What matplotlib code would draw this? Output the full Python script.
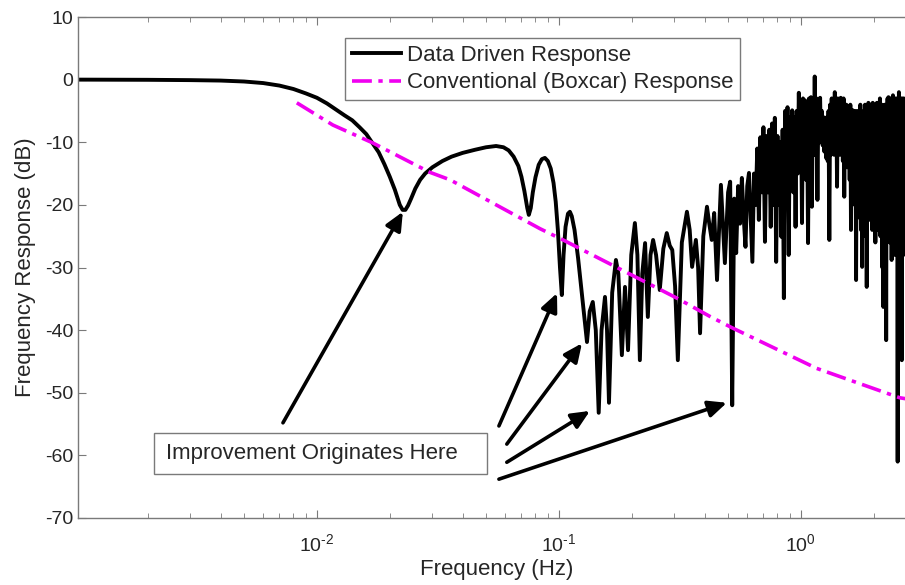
import numpy as np
import matplotlib
matplotlib.use('Agg')
import matplotlib.pyplot as plt
import matplotlib.patches as mpatches
from matplotlib.ticker import FuncFormatter

plt.rcParams['font.family'] = ['Liberation Sans', 'DejaVu Sans']
plt.rcParams['axes.unicode_minus'] = False
plt.rcParams['mathtext.fontset'] = 'custom'
plt.rcParams['mathtext.rm'] = 'Liberation Sans'
plt.rcParams['mathtext.it'] = 'Liberation Sans:italic'
plt.rcParams['mathtext.bf'] = 'Liberation Sans:bold'

# data driven response, low / mid band (Hz, dB)
low_freq = [
    0.00103, 0.002, 0.003, 0.004, 0.005, 0.006, 0.007, 0.008, 0.009, 0.010,
    0.011, 0.012, 0.013, 0.014, 0.015, 0.016, 0.017, 0.018, 0.019, 0.020,
    0.021, 0.022, 0.0226, 0.0232, 0.0238, 0.0245, 0.0255, 0.0267, 0.028, 0.030,
    0.033, 0.036, 0.040, 0.045, 0.050, 0.055, 0.059, 0.062, 0.065, 0.068,
    0.070, 0.072, 0.074, 0.0751, 0.0765, 0.078, 0.080, 0.0825, 0.085, 0.0875,
    0.090, 0.0925, 0.095, 0.097, 0.099, 0.101, 0.1028, 0.1045, 0.1065, 0.109,
    0.111, 0.113, 0.116, 0.120, 0.125, 0.1306, 0.134, 0.138, 0.142, 0.146,
    0.150, 0.155, 0.158, 0.161, 0.166, 0.172, 0.176, 0.182, 0.1875, 0.193,
    0.199, 0.206, 0.211, 0.216, 0.221, 0.227, 0.233, 0.239, 0.245, 0.252,
    0.261, 0.270, 0.279, 0.287, 0.294, 0.302, 0.310, 0.322, 0.338, 0.347,
    0.355, 0.368, 0.376, 0.383, 0.395, 0.409, 0.418, 0.428, 0.438, 0.45,
    0.467, 0.485,
]
low_db = [
    0, -0.03, -0.08, -0.15, -0.3, -0.55, -0.95, -1.5, -2.2, -2.9,
    -3.8, -4.8, -5.7, -6.5, -7.6, -8.7, -10.2, -11.6, -13.5, -15.5,
    -17.6, -20.0, -20.8, -20.8, -20.1, -19.0, -17.4, -16.0, -15.0, -14.0,
    -13.0, -12.3, -11.7, -11.2, -10.8, -10.6, -10.8, -11.3, -12.3, -13.8,
    -15.5, -17.8, -20.5, -21.6, -20.5, -18.0, -15.6, -13.6, -12.7, -12.5,
    -13.0, -14.2, -16.5, -19.5, -24, -30, -34.4, -28, -23.5, -21.4,
    -21.1, -21.8, -24, -28.5, -35, -41.9, -37, -35.5, -40, -53.2,
    -40, -34.7, -40, -51.6, -34, -28.8, -31, -44.0, -33.1, -43.2,
    -28, -22.9, -28, -44.8, -31, -26.1, -37.9, -28, -25.6, -28,
    -33.6, -27, -24.5, -26.5, -27.2, -33, -44.8, -26, -21.1, -24,
    -29.9, -25.6, -30, -40.5, -25, -20.3, -23, -25.6, -21.3, -32,
    -16.8, -29.3,
]

# data driven response, noisy high band: one value every 0.01 Hz from 0.50 Hz
high_start = 0.50
high_step = 0.01
high_db = [
    -18, -16.3, -52, -19, -27.7, -17, -23, -15.7, -22, -26.7,          # 0.50
    -17, -14.9, -22, -29.1, -15, -20, -11, -22.4, -9.2, -18,           # 0.60
    -7.6, -25.9, -9, -18, -8, -23.5, -7, -20, -6.1, -29.1,             # 0.70
    -9, -20, -10, -25.1, -8, -34.9, -5, -18, -4.4, -28,                # 0.80
    -6, -16, -4.9, -18, -6, -23.5, -5, -15, -2.1, -14,                 # 0.90
    -4, -22.9, -3, -14, -3.3, -16, -5, -26.1, -3, -13,                 # 1.00
    -2.8, -20.3, -4, -12, 0.5, -12, -3, -19.2, -4, -10,                # 1.10
    -2.9, -10, -5, -10.5, -6, -11.5, -7, -12.5, -6, -13,               # 1.20
    -5, -25.6, -4, -12, -3, -11, -5, -12, -2, -10,                     # 1.30
    -4, -17.1, -3, -11, -5, -12, -2.9, -10, -4, -13,                   # 1.40
    -3, -18.7, -5, -12, -4, -14, -4.4, -13, -6, -16,                   # 1.50
    -4, -24, -5, -15, -4.9, -18, -6, -20, -5, -32,                     # 1.60
    -7, -20, -5, -22, -6, -18, -4, -24, -6, -29.9,                     # 1.70
    -6.4, -22, -5, -18, -4, -25, -6, -33.1, -5, -20,                   # 1.80
    -3.7, -18, -5, -22.4, -4, -20, -5, -24, -3.7, -18,                 # 1.90
    -5, -22, -4, -26, -6, -20, -3.7, -22.4, -5, -24,                   # 2.00
    -4, -20, -3, -25, -5, -22, -4, -30, -6, -36.3,                     # 2.10
    -5, -24, -4, -28, -6, -41.6, -5, -20, -3, -25,                     # 2.20
    -2.8, -22, -4, -26, -3, -24, -5, -28.8, -3, -22,                   # 2.30
    -2.5, -25, -4, -20, -3, -28, -5, -22, -3, -26,                     # 2.40
    -6, -61, -4, -24, -2, -22, -4, -30, -3, -26,                       # 2.50
    -5, -44.8, -3, -24, -4, -28, -3, -22, -5, -25,                     # 2.60
    -4, -20, -3, -24, -5, -18,                                         # 2.70
]
high_freq = np.round(high_start + high_step * np.arange(len(high_db)), 2)

data_freq = np.concatenate([low_freq, high_freq])
data_db = np.concatenate([low_db, high_db])

# conventional (boxcar) response
boxcar_freq = [0.00826, 0.01164, 0.017, 0.0293, 0.0355, 0.0835, 0.104, 0.3076, 0.42, 0.524, 1.16, 2.56, 2.96]
boxcar_db = [-3.7, -7.25, -10.1, -14.8, -16.0, -23.8, -25.6, -34.9, -37.8, -39.7, -46.1, -50.8, -51.2]

# annotation arrows: tail and head (Hz, dB)
arrow_tail_f = [0.00724, 0.0565, 0.0609, 0.0609, 0.0565]
arrow_tail_db = [-54.8, -55.3, -58.2, -61.1, -63.8]
arrow_head_f = [0.02265, 0.0982, 0.1245, 0.1343, 0.494]
arrow_head_db = [-21.1, -34.1, -42.1, -52.9, -51.6]

note_text = 'Improvement Originates Here'

axis_grey = '#7a7a7a'
text_col = '#262626'


def log_label(x, pos):
    exp = int(round(np.log10(x)))
    if exp < 0:
        return r'10$^{\mathrm{\text{-}%d}}$' % (-exp)
    return r'10$^{%d}$' % exp


fig = plt.figure(figsize=(9.05, 5.85), dpi=100)
ax = fig.add_axes([78 / 905, 67 / 585, 837 / 905, 501 / 585])

ax.plot(data_freq, data_db, color='black', linewidth=2.8,
        label='Data Driven Response')
ax.plot(boxcar_freq, boxcar_db, color='#f000f0', linewidth=2.6,
        linestyle=(0, (5.5, 1.8, 1.2, 1.8)), label='Conventional (Boxcar) Response')

ax.set_xscale('log')
ax.set_xlim(0.00103, 2.96)
ax.set_ylim(-70, 10)
ax.set_yticks(np.arange(-70, 11, 10))
ax.set_xticks([0.01, 0.1, 1.0])
ax.xaxis.set_major_formatter(FuncFormatter(log_label))

for s in ax.spines.values():
    s.set_color(axis_grey)
    s.set_linewidth(1.0)
ax.tick_params(which='both', direction='in', top=True, right=True,
               color=axis_grey, labelcolor=text_col, labelsize=14)
ax.tick_params(which='major', length=6)
ax.tick_params(which='minor', length=3.5)
ax.tick_params(axis='x', pad=11)

ax.set_xlabel('Frequency (Hz)', fontsize=16, color=text_col, labelpad=3)
ax.set_ylabel('Frequency Response (dB)', fontsize=16, color=text_col, labelpad=6)

leg = ax.legend(loc='upper left', bbox_to_anchor=(0.319, 0.958), borderaxespad=0,
                fontsize=16, handlelength=2.2, handletextpad=0.3, labelspacing=0.3,
                borderpad=0.3, fancybox=False, framealpha=1)
leg.get_frame().set_edgecolor(axis_grey)
leg.get_frame().set_linewidth(1.0)
for t in leg.get_texts():
    t.set_color(text_col)

for tf, tdb, hf, hdb in zip(arrow_tail_f, arrow_tail_db, arrow_head_f, arrow_head_db):
    ax.annotate('', xy=(hf, hdb), xytext=(tf, tdb),
                arrowprops=dict(arrowstyle='-|>,head_length=0.55,head_width=0.25',
                                color='black', lw=2.6, shrinkA=0, shrinkB=0,
                                mutation_scale=20))

# note box
ax.add_patch(mpatches.Rectangle((0.00212, -63.0), 0.0504 - 0.00212, 6.6,
                                facecolor='white', edgecolor=axis_grey, linewidth=1.0,
                                zorder=4))
ax.text(0.00238, -59.7, note_text, fontsize=16, color=text_col,
        ha='left', va='center', zorder=5)

fig.savefig('out.png', dpi=100)
